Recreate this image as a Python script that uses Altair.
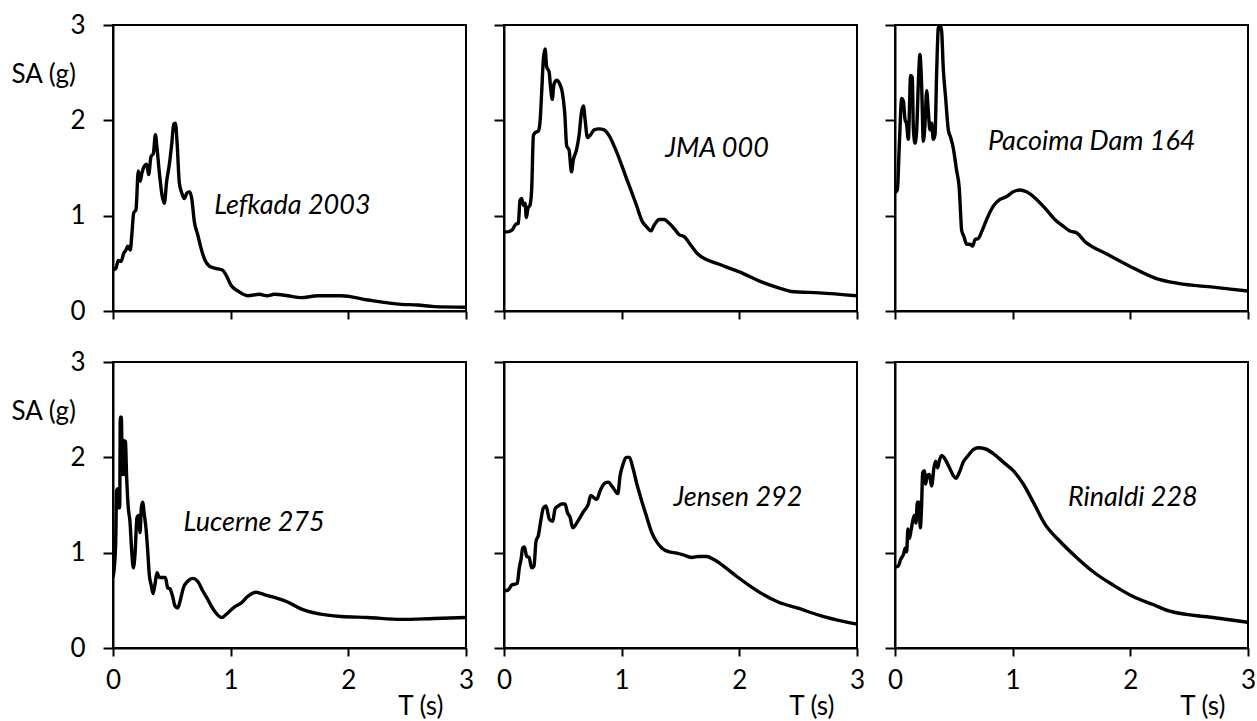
import altair as alt
import pandas as pd

# Spectral acceleration SA (g) against period T (s) for six records
T_LEFKADA = [0, 0.025, 0.045, 0.068, 0.09, 0.11, 0.125, 0.147, 0.16, 0.176, 0.195, 0.215, 0.232, 0.246,
             0.266, 0.286, 0.303, 0.323, 0.343, 0.36, 0.374, 0.394, 0.416, 0.436, 0.456, 0.479, 0.499,
             0.516, 0.53, 0.544, 0.564, 0.584, 0.606, 0.629, 0.652, 0.669, 0.691, 0.72, 0.748, 0.776,
             0.819, 0.861, 0.93, 0.96, 1.003, 1.06, 1.145, 1.244, 1.31, 1.37, 1.485, 1.598, 1.74, 1.94,
             2.165, 2.45, 2.59, 2.73, 3.0]
SA_LEFKADA = [0.43, 0.45, 0.53, 0.52, 0.60, 0.64, 0.68, 0.64, 0.80, 1.03, 1.06, 1.47, 1.36, 1.45,
              1.52, 1.54, 1.43, 1.62, 1.65, 1.85, 1.71, 1.45, 1.22, 1.13, 1.36, 1.54, 1.75,
              1.96, 1.97, 1.78, 1.34, 1.24, 1.18, 1.24, 1.25, 1.18, 0.94, 0.80, 0.66, 0.55,
              0.47, 0.45, 0.43, 0.38, 0.27, 0.21, 0.16, 0.175, 0.16, 0.175, 0.16, 0.14, 0.16, 0.16,
              0.115, 0.07, 0.063, 0.046, 0.04]

T_JMA = [0, 0.028, 0.07, 0.1, 0.122, 0.136, 0.15, 0.164, 0.179, 0.19, 0.204, 0.221, 0.235, 0.25,
         0.264, 0.292, 0.306, 0.32, 0.335, 0.349, 0.363, 0.383, 0.397, 0.41, 0.425, 0.448, 0.474,
         0.496, 0.516, 0.533, 0.553, 0.573, 0.59, 0.616, 0.638, 0.658, 0.675, 0.689, 0.709, 0.737,
         0.766, 0.808, 0.851, 0.893, 0.95, 1.035, 1.12, 1.177, 1.214, 1.248, 1.276, 1.319, 1.361,
         1.404, 1.446, 1.489, 1.531, 1.588, 1.645, 1.829, 2.0, 2.198, 2.34, 2.44, 2.68, 3.0]
SA_JMA = [0.83, 0.83, 0.85, 0.91, 0.92, 1.16, 1.18, 1.11, 1.13, 0.98, 1.08, 1.11, 1.27, 1.84,
          1.87, 1.89, 1.98, 2.29, 2.65, 2.75, 2.56, 2.51, 2.33, 2.22, 2.38, 2.42, 2.38,
          2.29, 2.08, 1.73, 1.69, 1.46, 1.59, 1.69, 1.84, 2.08, 2.15, 2.01, 1.82, 1.85,
          1.90, 1.91, 1.90, 1.84, 1.69, 1.41, 1.13, 0.935, 0.88, 0.84, 0.90, 0.96, 0.96,
          0.92, 0.865, 0.80, 0.78, 0.69, 0.60, 0.49, 0.41, 0.30, 0.24, 0.205, 0.19, 0.16]

T_PACOIMA = [0, 0.02, 0.037, 0.057, 0.071, 0.085, 0.099, 0.113, 0.133, 0.147, 0.156, 0.17, 0.184,
             0.198, 0.212, 0.226, 0.241, 0.255, 0.269, 0.283, 0.297, 0.311, 0.325, 0.34, 0.354,
             0.368, 0.382, 0.396, 0.41, 0.43, 0.453, 0.473, 0.495, 0.524, 0.546, 0.558, 0.566,
             0.586, 0.609, 0.637, 0.66, 0.68, 0.708, 0.736, 0.779, 0.835, 0.892, 0.948, 1.005,
             1.061, 1.118, 1.203, 1.288, 1.358, 1.429, 1.486, 1.542, 1.613, 1.797, 1.995, 2.222,
             2.406, 2.703, 3.0]
SA_PACOIMA = [1.24, 1.27, 1.75, 2.23, 2.20, 2.01, 1.96, 1.80, 2.47, 2.45, 1.92, 1.76, 1.89,
              2.38, 2.69, 2.38, 1.78, 1.96, 2.31, 2.10, 1.90, 1.97, 1.80, 1.85, 2.50,
              2.97, 3.0, 2.94, 2.55, 2.24, 1.90, 1.82, 1.71, 1.47, 1.29, 1.01, 0.85,
              0.78, 0.70, 0.70, 0.68, 0.75, 0.76, 0.83, 0.96, 1.10, 1.17, 1.20, 1.25,
              1.27, 1.25, 1.17, 1.06, 0.96, 0.89, 0.84, 0.82, 0.73, 0.60, 0.47, 0.34,
              0.29, 0.25, 0.21]

T_LUCERNE = [0, 0.011, 0.023, 0.031, 0.04, 0.048, 0.057, 0.062, 0.071, 0.079, 0.088, 0.096, 0.105,
             0.116, 0.13, 0.144, 0.159, 0.173, 0.187, 0.204, 0.218, 0.23, 0.241, 0.252, 0.266,
             0.28, 0.295, 0.309, 0.323, 0.34, 0.357, 0.374, 0.394, 0.422, 0.445, 0.465, 0.484,
             0.507, 0.527, 0.55, 0.57, 0.598, 0.635, 0.677, 0.72, 0.762, 0.805, 0.861, 0.924,
             0.96, 1.031, 1.088, 1.144, 1.215, 1.286, 1.371, 1.47, 1.598, 1.74, 1.938, 2.164,
             2.448, 2.731, 3.0]
SA_LUCERNE = [0.74, 0.84, 1.12, 1.65, 1.67, 1.47, 1.47, 2.42, 2.42, 1.82, 2.18, 1.82, 2.17,
              1.79, 1.47, 1.33, 1.02, 0.84, 0.98, 1.37, 1.39, 1.21, 1.47, 1.53, 1.40,
              1.26, 1.02, 0.76, 0.67, 0.57, 0.67, 0.79, 0.74, 0.74, 0.74, 0.63, 0.62,
              0.54, 0.44, 0.42, 0.49, 0.63, 0.70, 0.73, 0.70, 0.60, 0.51, 0.39, 0.32,
              0.35, 0.43, 0.47, 0.54, 0.585, 0.56, 0.53, 0.49, 0.41, 0.36, 0.33, 0.32,
              0.30, 0.31, 0.32]

T_JENSEN = [0, 0.037, 0.065, 0.094, 0.113, 0.13, 0.145, 0.159, 0.173, 0.193, 0.213, 0.235, 0.255,
            0.272, 0.292, 0.312, 0.335, 0.357, 0.386, 0.414, 0.434, 0.462, 0.49, 0.519, 0.539,
            0.562, 0.584, 0.613, 0.647, 0.681, 0.717, 0.737, 0.76, 0.788, 0.817, 0.859, 0.888,
            0.916, 0.944, 0.967, 0.987, 1.01, 1.038, 1.066, 1.095, 1.129, 1.171, 1.214, 1.256,
            1.299, 1.341, 1.398, 1.469, 1.54, 1.596, 1.653, 1.724, 1.78, 1.866, 1.979, 2.092,
            2.192, 2.334, 2.49, 2.717, 3.0]
SA_JENSEN = [0.60, 0.61, 0.66, 0.67, 0.68, 0.84, 0.93, 1.05, 1.06, 0.96, 0.95, 0.84, 0.86,
             1.12, 1.18, 1.33, 1.47, 1.49, 1.35, 1.33, 1.46, 1.49, 1.51, 1.51, 1.42,
             1.37, 1.26, 1.30, 1.37, 1.44, 1.51, 1.60, 1.58, 1.56, 1.65, 1.73, 1.74,
             1.70, 1.65, 1.62, 1.81, 1.92, 2.0, 2.0, 1.89, 1.72, 1.54, 1.37, 1.21,
             1.11, 1.05, 1.01, 0.995, 0.97, 0.95, 0.96, 0.96, 0.93, 0.86, 0.75, 0.65,
             0.57, 0.48, 0.42, 0.33, 0.25]

T_RINALDI = [0, 0.028, 0.048, 0.071, 0.088, 0.099, 0.11, 0.122, 0.136, 0.15, 0.164, 0.178, 0.19,
             0.204, 0.215, 0.226, 0.235, 0.249, 0.26, 0.275, 0.292, 0.311, 0.331, 0.345, 0.362,
             0.376, 0.396, 0.416, 0.439, 0.467, 0.495, 0.518, 0.546, 0.58, 0.623, 0.665, 0.708,
             0.764, 0.835, 0.92, 1.005, 1.09, 1.175, 1.274, 1.401, 1.543, 1.684, 1.854, 2.024,
             2.193, 2.335, 2.703, 3.0]
SA_RINALDI = [0.85, 0.86, 0.93, 0.98, 1.05, 1.01, 1.25, 1.15, 1.23, 1.33, 1.39, 1.31, 1.53,
              1.53, 1.26, 1.49, 1.84, 1.86, 1.72, 1.81, 1.82, 1.70, 1.89, 1.96, 1.89,
              1.96, 2.02, 2.0, 1.95, 1.88, 1.81, 1.78, 1.84, 1.95, 2.02, 2.08, 2.10,
              2.09, 2.04, 1.95, 1.86, 1.72, 1.53, 1.30, 1.12, 0.95, 0.80, 0.66, 0.54,
              0.456, 0.386, 0.32, 0.27]

RECORDS = ["Lefkada 2003", "JMA 000", "Pacoima Dam 164", "Lucerne 275", "Jensen 292", "Rinaldi 228"]
SERIES = [(T_LEFKADA, SA_LEFKADA), (T_JMA, SA_JMA), (T_PACOIMA, SA_PACOIMA),
          (T_LUCERNE, SA_LUCERNE), (T_JENSEN, SA_JENSEN), (T_RINALDI, SA_RINALDI)]
# where each record name sits inside its panel (T, SA of the left end of the text)
NAME_ANCHOR = [(0.86, 1.10), (1.37, 1.70), (0.79, 1.77), (0.60, 1.31), (1.44, 1.57), (1.47, 1.57)]
TICKS = [0, 1, 2, 3]

FONT = "Lato"
TEXT_SIZE = 26
W, H = 353, 286


def panel(i):
    t, sa = SERIES[i]
    left = i % 3 == 0
    bottom = i >= 3
    df = pd.DataFrame({"T": t, "SA": sa})
    scale = alt.Scale(domain=[0, 3], nice=False, zero=False)
    if bottom:
        xaxis = alt.Axis(values=TICKS, tickSize=8, labelPadding=11, labelFlush=False,
                         title="T (s)", titleAlign="right", titleBaseline="alphabetic",
                         titleX=330, titleY=66, format="d")
    else:
        xaxis = alt.Axis(values=TICKS, tickSize=8, labels=False, title=None)
    if left:
        yaxis = alt.Axis(values=TICKS, tickSize=10, labelPadding=18, title="SA (g)",
                         titleAngle=0, titleAlign="left", titleBaseline="alphabetic",
                         titleX=-102, titleY=57, format="d")
    else:
        yaxis = alt.Axis(values=TICKS, tickSize=10, labels=False, title=None)

    line = alt.Chart(df).mark_line(color="black", strokeWidth=3.4, interpolate="monotone",
                                   clip=True).encode(
        x=alt.X("T:Q", scale=scale, axis=xaxis),
        y=alt.Y("SA:Q", scale=scale, axis=yaxis),
    )
    ax, ay = NAME_ANCHOR[i]
    name_df = pd.DataFrame({"T": [ax], "SA": [ay], "name": [RECORDS[i]]})
    name = alt.Chart(name_df).mark_text(font=FONT, fontSize=27, fontStyle="italic",
                                        align="left", baseline="middle", color="black").encode(
        x=alt.X("T:Q", scale=scale),
        y=alt.Y("SA:Q", scale=scale),
        text="name:N",
    )
    return alt.layer(line, name).properties(width=W, height=H)


chart = alt.concat(
    *[panel(i) for i in range(6)],
    columns=3,
    spacing=alt.RowColnumber(row=51, column=38),
    bounds="flush",
).resolve_scale(x="independent", y="independent").properties(
    padding={"left": 10, "top": 11, "right": 0, "bottom": 0},
    background="white",
).configure_view(
    stroke="black", strokeWidth=2
).configure_axis(
    grid=False, domainColor="black", domainWidth=2, tickColor="black", tickWidth=2,
    labelColor="black", titleColor="black", labelFont=FONT, titleFont=FONT,
    labelFontSize=TEXT_SIZE, titleFontSize=TEXT_SIZE, titleFontWeight="normal",
)

chart.save("out.html", embed_options={"renderer": "svg", "actions": False})
